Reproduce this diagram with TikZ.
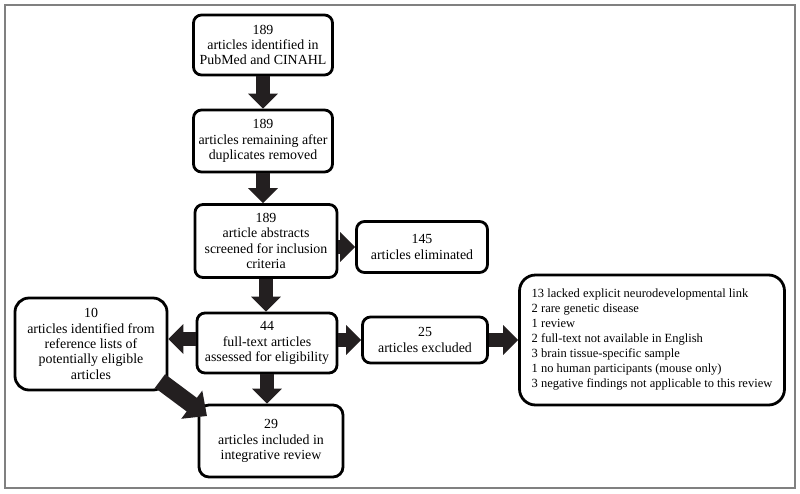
\documentclass[tikz,border=0pt]{standalone}
\usepackage{fontspec}
\setmainfont{Liberation Serif}
\usetikzlibrary{arrows.meta}
\definecolor{arrowc}{HTML}{231F20}
\definecolor{framec}{HTML}{808080}
\tikzset{
  box/.style={draw=black, line width=2.8pt, rounded corners=8pt, align=center, inner sep=0pt,
    font=\fontsize{13.9}{15.4}\selectfont},
  reasonbox/.style={box, font=\fontsize{12.5}{15}\selectfont},
  barrow/.style={draw=arrowc, line width=14pt, -{Triangle[width=29pt,length=15pt]}},
  bigarrow/.style={draw=arrowc, line width=17pt, -{Triangle[width=34pt,length=19pt]}}
}
\begin{document}
\begin{tikzpicture}[x=1pt,y=-1pt]
\useasboundingbox (0,0) rectangle (800,493);
\draw[framec, line width=1.5pt] (5,5) rectangle (795,488);

\node[box, minimum width=139pt, minimum height=60pt] (b1) at (263,45) {189\\articles identified in\\PubMed and CINAHL};
\node[box, minimum width=139pt, minimum height=62pt] (b2) at (263,141) {189\\articles remaining after\\duplicates removed};
\node[box, minimum width=142pt, minimum height=73pt] (b3) at (266,241) {189\\article abstracts\\screened for inclusion\\criteria};
\node[box, minimum width=131pt, minimum height=51pt] (b145) at (422,247) {145\\articles eliminated};
\node[box, minimum width=140pt, minimum height=60pt] (b44) at (267,343) {44\\full-text articles\\assessed for eligibility};
\node[box, rounded corners=14pt, minimum width=152pt, minimum height=92pt] (b10) at (91,344) {10\\articles identified from\\reference lists of\\potentially eligible\\articles};
\node[box, rounded corners=10pt, minimum width=144pt, minimum height=72pt] (b29) at (271,441) {29\\articles included in\\integrative review};
\node[box, minimum width=125pt, minimum height=46pt] (b25) at (425,340) {25\\articles excluded};
\node[reasonbox, rounded corners=16pt, align=left, minimum width=265pt, minimum height=130pt] (rs) at (652,340) {13 lacked explicit neurodevelopmental link\\2 rare genetic disease\\1 review\\2 full-text not available in English\\3 brain tissue-specific sample\\1 no human participants (mouse only)\\3 negative findings not applicable to this review};

\coordinate (d1) at (160,381);
\coordinate (d2) at (207,416);

\draw[barrow] (b1.south) -- (b2.north);
\draw[barrow] (b2.south) -- (b2.south |- b3.north);
\draw[barrow] (b3.east |- b145.west) -- (b145.west);
\draw[barrow] (b3.south) -- (b3.south |- b44.north);
\draw[barrow] ([yshift=4pt]b44.west) -- ([yshift=4pt]b44.west -| b10.east);
\draw[barrow] (b44.south) -- (b44.south |- b29.north);
\draw[barrow] (b44.east |- b25.west) -- (b25.west);
\draw[barrow] (b25.east) -- (b25.east -| rs.west);
\draw[bigarrow] (d1) -- (d2);
\end{tikzpicture}
\end{document}
